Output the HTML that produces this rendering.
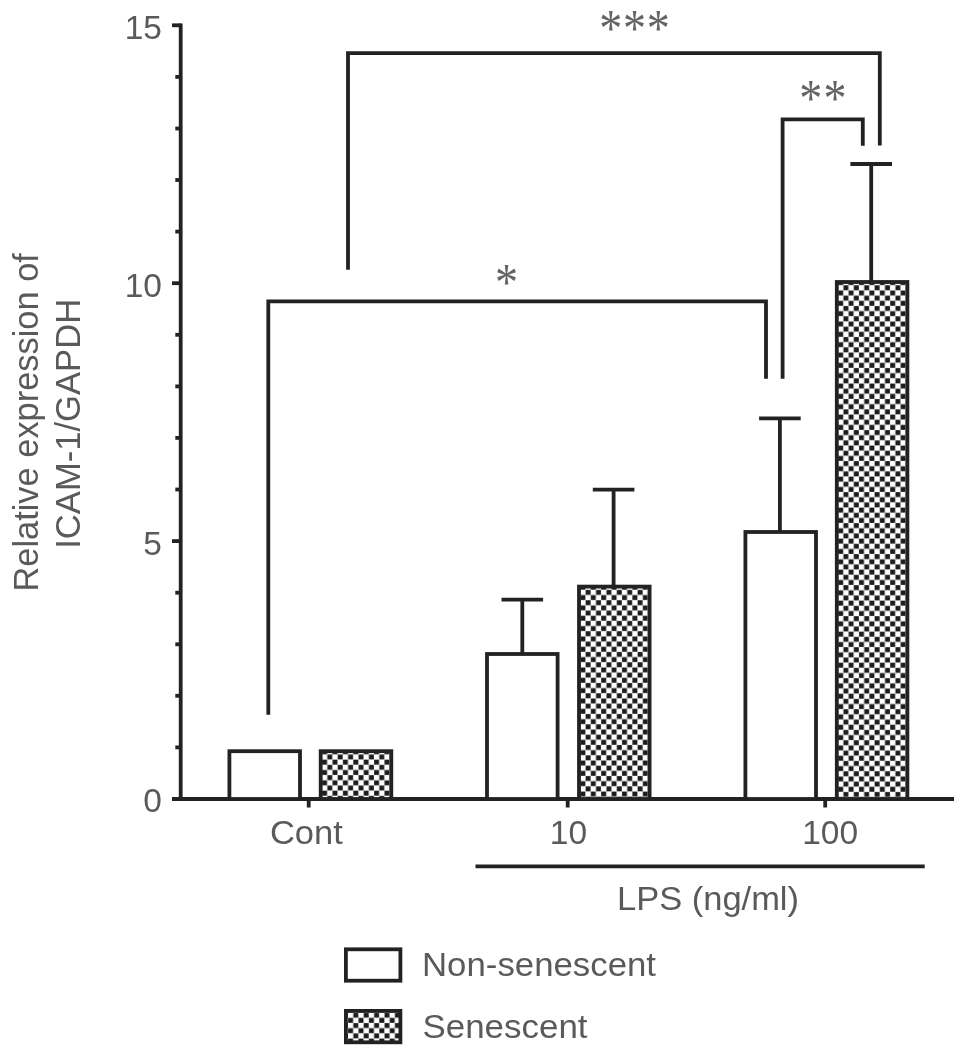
<!DOCTYPE html>
<html lang="en"><head><meta charset="utf-8"><title>ICAM-1/GAPDH expression</title>
<style>
html,body{margin:0;padding:0;background:#fff;}
body{width:969px;height:1057px;overflow:hidden;}
svg{display:block;}
.t{font-family:"Liberation Sans",sans-serif;font-size:33.5px;fill:#5a5a5a;}
.s{font-family:"Liberation Serif",serif;font-size:48px;fill:#646464;}
.l{stroke:#222;fill:none;stroke-width:3.8;}
</style></head><body>
<svg width="969" height="1057" viewBox="0 0 969 1057">
<defs>
<pattern id="chk" patternUnits="userSpaceOnUse" x="1.3" y="3.2" width="10.4" height="10.34">
<rect width="10.4" height="10.34" fill="#fff"/>
<rect x="5.32" y="0.12" width="4.96" height="4.93" fill="#1c1c1c"/>
<rect x="0.12" y="5.29" width="4.96" height="4.93" fill="#1c1c1c"/>
</pattern>
<pattern id="chk2" patternUnits="userSpaceOnUse" x="2.1" y="1.7" width="10.4" height="10.34">
<rect width="10.4" height="10.34" fill="#fff"/>
<rect x="5.32" y="0.12" width="4.96" height="4.93" fill="#1c1c1c"/>
<rect x="0.12" y="5.29" width="4.96" height="4.93" fill="#1c1c1c"/>
</pattern>
</defs>
<rect width="969" height="1057" fill="#fff"/>
<g>

<line class="l" x1="180.7" y1="23.4" x2="180.7" y2="801.1" stroke-width="4.3"/>
<line class="l" x1="172" y1="799" x2="954" y2="799" stroke-width="4.3"/>
<line class="l" x1="175.3" y1="747.4" x2="181" y2="747.4" stroke-width="3.4"/>
<line class="l" x1="175.3" y1="695.8" x2="181" y2="695.8" stroke-width="3.4"/>
<line class="l" x1="175.3" y1="644.3" x2="181" y2="644.3" stroke-width="3.4"/>
<line class="l" x1="175.3" y1="592.7" x2="181" y2="592.7" stroke-width="3.4"/>
<line class="l" x1="172" y1="541.1" x2="181" y2="541.1" stroke-width="3.8"/>
<line class="l" x1="175.3" y1="489.5" x2="181" y2="489.5" stroke-width="3.4"/>
<line class="l" x1="175.3" y1="437.9" x2="181" y2="437.9" stroke-width="3.4"/>
<line class="l" x1="175.3" y1="386.4" x2="181" y2="386.4" stroke-width="3.4"/>
<line class="l" x1="175.3" y1="334.8" x2="181" y2="334.8" stroke-width="3.4"/>
<line class="l" x1="172" y1="283.2" x2="181" y2="283.2" stroke-width="3.8"/>
<line class="l" x1="175.3" y1="231.6" x2="181" y2="231.6" stroke-width="3.4"/>
<line class="l" x1="175.3" y1="180.0" x2="181" y2="180.0" stroke-width="3.4"/>
<line class="l" x1="175.3" y1="128.5" x2="181" y2="128.5" stroke-width="3.4"/>
<line class="l" x1="175.3" y1="76.9" x2="181" y2="76.9" stroke-width="3.4"/>
<line class="l" x1="172" y1="25.3" x2="181" y2="25.3" stroke-width="3.8"/>
<line class="l" x1="308.7" y1="799" x2="308.7" y2="807.5" stroke-width="3.8"/>
<line class="l" x1="567.7" y1="799" x2="567.7" y2="807.5" stroke-width="3.8"/>
<line class="l" x1="825.2" y1="799" x2="825.2" y2="807.5" stroke-width="3.8"/>
<text class="t" x="162" y="812.4" text-anchor="end">0</text>
<text class="t" x="162" y="554.5" text-anchor="end">5</text>
<text class="t" x="162" y="296.6" text-anchor="end">10</text>
<text class="t" x="162" y="38.7" text-anchor="end">15</text>
<rect class="l" x="229.4" y="751.2" width="70.6" height="47.8" style="fill:#fff"/>
<g transform="translate(320.7,751.2)"><rect class="l" x="0" y="0" width="70.6" height="47.8" fill="url(#chk)" style="fill:url(#chk)"/></g>
<path class="l" d="M501.5 599.7H543.1M522.3 599.7V654.0" stroke-width="3.6"/>
<rect class="l" x="487.0" y="654.0" width="70.6" height="145.0" style="fill:#fff"/>
<path class="l" d="M592.8 489.6H634.4M613.6 489.6V586.6" stroke-width="3.6"/>
<g transform="translate(579.0,586.6)"><rect class="l" x="0" y="0" width="70.6" height="212.4" fill="url(#chk)" style="fill:url(#chk)"/></g>
<path class="l" d="M759.1 418.3H800.7M779.9 418.3V532.0" stroke-width="3.6"/>
<rect class="l" x="745.4" y="532.0" width="70.6" height="267.0" style="fill:#fff"/>
<path class="l" d="M850.4 164.0H892.0M871.2 164.0V282.0" stroke-width="3.6"/>
<g transform="translate(836.8,282.0)"><rect class="l" x="0" y="0" width="70.6" height="517.0" fill="url(#chk)" style="fill:url(#chk)"/></g>
<path class="l" d="M268.3 714.7V301.3H766V378.7"/>
<path class="l" d="M348 269.7V53.1H879.8V145.5"/>
<path class="l" d="M782.6 378.7V119.4H862.8V145.8"/>
<text class="s" transform="translate(506.4,274.8) scale(0.96,1.09)" x="0" y="22.9" text-anchor="middle">*</text>
<text class="s" transform="translate(810.8,90.7) scale(0.96,1.09)" x="0" y="22.9" text-anchor="middle">*</text>
<text class="s" transform="translate(835.1,90.7) scale(0.96,1.09)" x="0" y="22.9" text-anchor="middle">*</text>
<text class="s" transform="translate(610.7,21.4) scale(0.96,1.09)" x="0" y="22.9" text-anchor="middle">*</text>
<text class="s" transform="translate(634.5,21.4) scale(0.96,1.09)" x="0" y="22.9" text-anchor="middle">*</text>
<text class="s" transform="translate(658.3,21.4) scale(0.96,1.09)" x="0" y="22.9" text-anchor="middle">*</text>
<text class="t" x="306.4" y="844" text-anchor="middle" textLength="73" lengthAdjust="spacingAndGlyphs">Cont</text>
<text class="t" x="568.5" y="844" text-anchor="middle">10</text>
<text class="t" x="830.2" y="844" text-anchor="middle">100</text>
<line class="l" x1="475.5" y1="866.4" x2="924.7" y2="866.4" stroke-width="3.8"/>
<text class="t" x="617" y="910.3" textLength="182" lengthAdjust="spacingAndGlyphs">LPS (ng/ml)</text>
<text class="t" style="font-size:35.5px" transform="translate(37.8,591.6) rotate(-90)" textLength="338.5" lengthAdjust="spacingAndGlyphs">Relative expression of</text>
<text class="t" style="font-size:35px" transform="translate(80,548.8) rotate(-90)" textLength="250" lengthAdjust="spacingAndGlyphs">ICAM-1/GAPDH</text>
<rect class="l" x="345.9" y="949.3" width="54.5" height="31.4" style="fill:#fff"/>
<g transform="translate(345.9,1010.9)"><rect class="l" x="0" y="0" width="54.5" height="31.4" style="fill:url(#chk2)"/></g>
<text class="t" x="422" y="976.4" textLength="234" lengthAdjust="spacingAndGlyphs">Non-senescent</text>
<text class="t" x="422.5" y="1037.5" textLength="165" lengthAdjust="spacingAndGlyphs">Senescent</text>
</g></svg></body></html>
